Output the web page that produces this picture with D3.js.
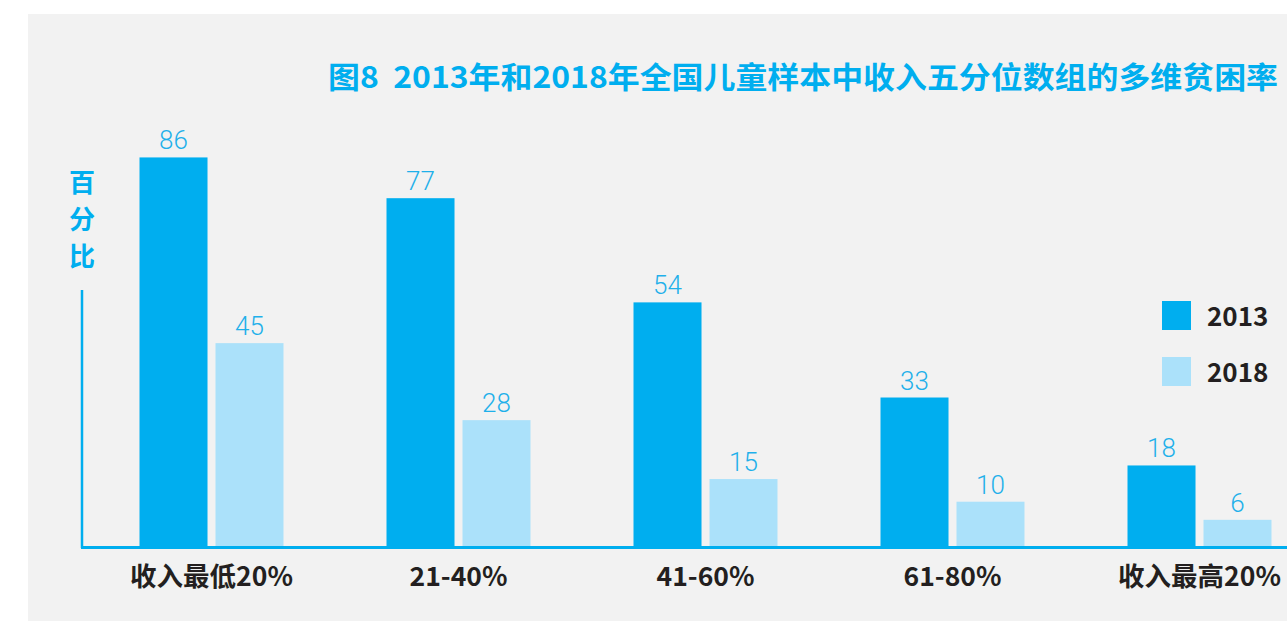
<!DOCTYPE html>
<html>
<head>
<meta charset="utf-8">
<script src="https://cdn.jsdelivr.net/npm/d3@7"></script>
<style>
  body { margin: 0; background: #ffffff; }
  .cjk { font-family: "Noto Sans CJK SC", "Noto Sans", sans-serif; }
  .val { font-family: Roboto, "Liberation Sans", sans-serif; font-weight: 300; }
  .title { white-space: pre; }
</style>
</head>
<body>
<div id="chart"></div>
<script>
// data
const categories = ["收入最低20%", "21-40%", "41-60%", "61-80%", "收入最高20%"];
const years = ["2013", "2018"];
const values2013 = [86, 77, 54, 33, 18];
const values2018 = [45, 28, 15, 10, 6];

const colors = {"2013": "#00aeef", "2018": "#abe1fa"};
const W = 1287, H = 621;

const rows = categories.map((c, i) => ({cat: c, "2013": values2013[i], "2018": values2018[i]}));

const svg = d3.select("#chart").append("svg")
    .attr("width", W)
    .attr("height", H);

// gray panel
svg.append("rect")
    .attr("x", 28).attr("y", 14)
    .attr("width", W - 28).attr("height", H - 14)
    .attr("fill", "#f2f2f2");

const x0 = d3.scaleBand()
    .domain(categories)
    .range([88, 88 + 247 * 5])
    .paddingInner(0.417)
    .paddingOuter(0.2085);

const x1 = d3.scaleBand()
    .domain(years)
    .range([0, x0.bandwidth()])
    .paddingInner(0.105)
    .paddingOuter(0);

const y = d3.scaleLinear()
    .domain([0, 100])
    .range([547, 94]);

// title
svg.append("text")
    .attr("class", "cjk title")
    .attr("x", 328)
    .attr("y", 88)
    .attr("fill", "#00aeef")
    .attr("font-size", 30)
    .attr("font-weight", 700)
    .attr("textLength", 950)
    .attr("lengthAdjust", "spacingAndGlyphs")
    .text("图8  2013年和2018年全国儿童样本中收入五分位数组的多维贫困率");

// bars
const groups = svg.selectAll(".grp")
    .data(rows)
    .enter()
    .append("g")
    .attr("class", "grp")
    .attr("transform", d => `translate(${x0(d.cat)},0)`);

groups.selectAll("rect")
    .data(d => years.map(k => ({key: k, value: d[k]})))
    .enter()
    .append("rect")
    .attr("x", d => x1(d.key))
    .attr("y", d => y(d.value))
    .attr("width", x1.bandwidth())
    .attr("height", d => y(0) - y(d.value))
    .attr("fill", d => colors[d.key]);

groups.selectAll(".val")
    .data(d => years.map(k => ({key: k, value: d[k]})))
    .enter()
    .append("text")
    .attr("class", "val")
    .attr("x", d => x1(d.key) + x1.bandwidth() / 2)
    .attr("y", d => y(d.value) - 8)
    .attr("text-anchor", "middle")
    .attr("font-size", 26)
    .attr("fill", "#1fb0ea")
    .text(d => d.value);

// axes lines
svg.append("line")
    .attr("x1", 82).attr("x2", 82)
    .attr("y1", 290).attr("y2", y(0) + 1)
    .attr("stroke", "#00aeef")
    .attr("stroke-width", 2.5);

const xAxis = d3.axisBottom(x0).tickSize(0).tickPadding(20);
const gx = svg.append("g")
    .attr("transform", `translate(0,${y(0)})`)
    .call(xAxis);
gx.select(".domain").remove();
gx.append("line")
    .attr("x1", 81).attr("x2", W)
    .attr("y1", 0.5).attr("y2", 0.5)
    .attr("stroke", "#00aeef")
    .attr("stroke-width", 3);
gx.selectAll(".tick text")
    .attr("class", "cjk")
    .attr("font-size", 26.5)
    .attr("font-weight", 700)
    .attr("fill", "#231f20");

// y label, stacked vertically
const yLabel = ["百", "分", "比"];
svg.selectAll(".ylab")
    .data(yLabel)
    .enter()
    .append("text")
    .attr("class", "cjk ylab")
    .attr("x", 82)
    .attr("y", (d, i) => 192 + i * 37)
    .attr("text-anchor", "middle")
    .attr("font-size", 26)
    .attr("font-weight", 700)
    .attr("fill", "#00aeef")
    .text(d => d);

// legend
const legend = svg.selectAll(".leg")
    .data(years)
    .enter()
    .append("g")
    .attr("class", "leg")
    .attr("transform", (d, i) => `translate(1162,${301 + i * 56})`);
legend.append("rect")
    .attr("width", 29).attr("height", 29)
    .attr("fill", d => colors[d]);
legend.append("text")
    .attr("class", "cjk")
    .attr("x", 45)
    .attr("y", 25)
    .attr("font-size", 26)
    .attr("font-weight", 700)
    .attr("fill", "#231f20")
    .text(d => d);
</script>
</body>
</html>
